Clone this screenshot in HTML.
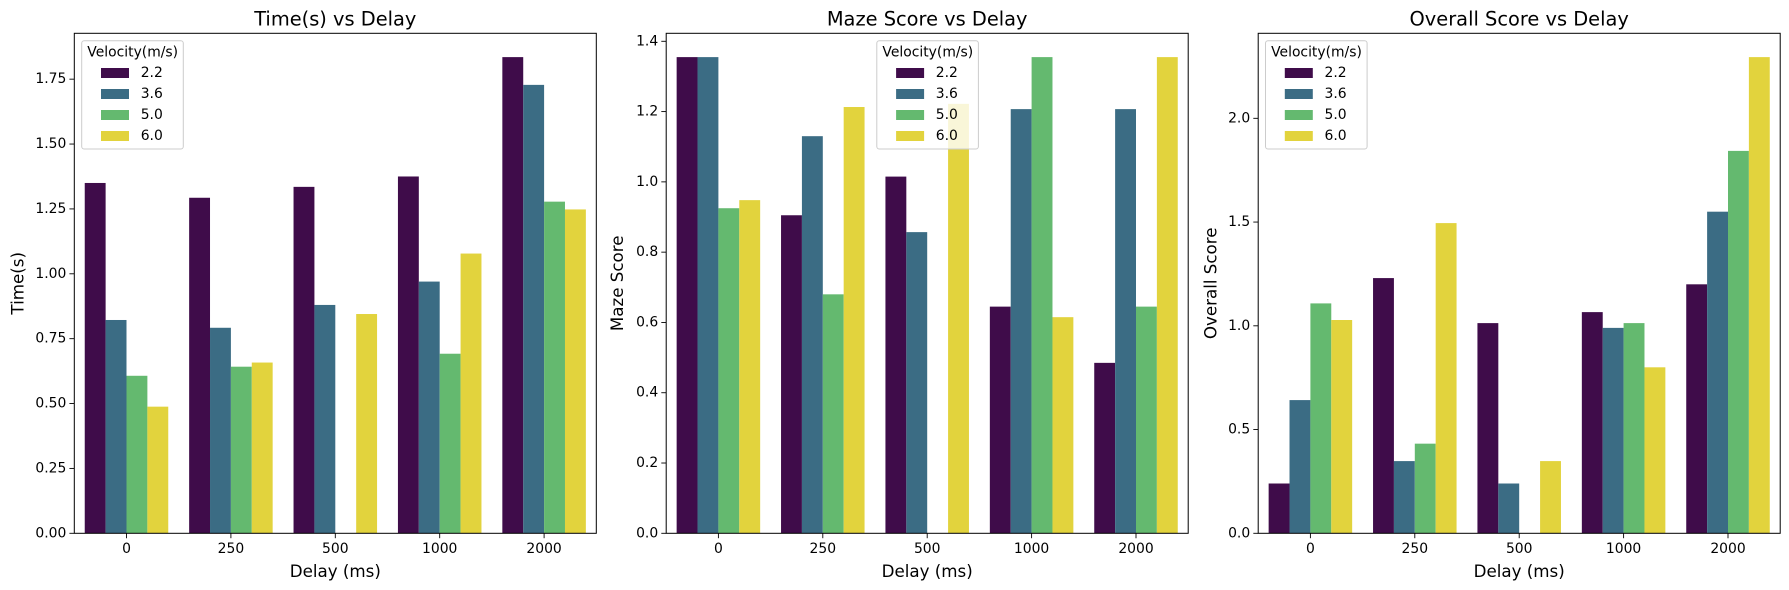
<!DOCTYPE html>
<html><head><meta charset="utf-8"><style>
body{margin:0;background:#fff}
svg{display:block;font-family:"DejaVu Sans","Liberation Sans",sans-serif}
</style></head><body>
<svg id="fig" width="1789" height="590" xmlns="http://www.w3.org/2000/svg"></svg>
<script>
const categories = ["0","250","500","1000","2000"];
const velocities = ["2.2","3.6","5.0","6.0"];
const colors = ["#3f0c4a","#3b6c84","#64b96f","#e2d33d"];
const timeV22 = [1.35,1.293,1.335,1.375,1.835];
const timeV36 = [0.822,0.792,0.88,0.97,1.728];
const timeV50 = [0.607,0.642,0,0.692,1.278];
const timeV60 = [0.488,0.658,0.845,1.078,1.248];
const timeTicks = [0,0.25,0.5,0.75,1.0,1.25,1.5,1.75];
const mazeV22 = [1.355,0.905,1.015,0.645,0.485];
const mazeV36 = [1.355,1.13,0.857,1.207,1.207];
const mazeV50 = [0.925,0.68,0,1.355,0.645];
const mazeV60 = [0.948,1.213,1.222,0.615,1.355];
const mazeTicks = [0,0.2,0.4,0.6,0.8,1.0,1.2,1.4];
const overV22 = [0.24,1.23,1.013,1.066,1.2];
const overV36 = [0.642,0.348,0.24,0.99,1.55];
const overV50 = [1.108,0.432,0,1.013,1.843];
const overV60 = [1.028,1.495,0.348,0.8,2.295];
const overTicks = [0,0.5,1.0,1.5,2.0];

const NS="http://www.w3.org/2000/svg";
const svg=document.getElementById('fig');
function mk(tag,attrs,parent){const e=document.createElementNS(NS,tag);for(const k in attrs)e.setAttribute(k,attrs[k]);(parent||svg).appendChild(e);return e;}

const panels=[
 {key:'time',left:74.3,title:'Time(s) vs Delay',ylabel:'Time(s)',series:[timeV22,timeV36,timeV50,timeV60],ticks:timeTicks,dec:2,legX:81.7,ylx:17.5},
 {key:'maze',left:666.2,title:'Maze Score vs Delay',ylabel:'Maze Score',series:[mazeV22,mazeV36,mazeV50,mazeV60],ticks:mazeTicks,dec:1,legX:876.8,ylx:617},
 {key:'overall',left:1258.2,title:'Overall Score vs Delay',ylabel:'Overall Score',series:[overV22,overV36,overV50,overV60],ticks:overTicks,dec:1,legX:1265.5,ylx:1210.3}
];
const yTop=33.3,yBottom=533.3,W=522;
panels.forEach(p=>{
  const g=mk('g',{});
  
  
  let mx=0;p.series.forEach(s=>s.forEach(v=>{if(v>mx)mx=v;}));
  const ymax=mx*1.05;
  const y=v=>yBottom-v/ymax*(yBottom-yTop);
  const step=W/categories.length;
  const xc=i=>p.left+step*(i+0.5);
  const bw=step*0.2;
  p.series.forEach((s,si)=>{
    s.forEach((v,ci)=>{
      const r=mk('rect',{x:xc(ci)-2*bw+si*bw,y:y(v),width:bw,height:yBottom-y(v),fill:colors[si]},g);
      
      
    });
  });
  const frame=mk('rect',{x:p.left,y:yTop,width:W,height:yBottom-yTop,fill:'none',stroke:'#000','stroke-width':1},g);
  
  
  p.ticks.forEach(t=>{
    mk('line',{x1:p.left-4.9,x2:p.left,y1:y(t),y2:y(t),stroke:'#000','stroke-width':0.9},g);
    const tx=mk('text',{x:p.left-8,y:y(t),'text-anchor':'end','dominant-baseline':'central','font-size':13.9,fill:'#000'},g);
    tx.textContent=t.toFixed(p.dec);
    
    
  });
  categories.forEach((c,i)=>{
    mk('line',{x1:xc(i),x2:xc(i),y1:yBottom,y2:yBottom+4.9,stroke:'#000','stroke-width':0.9},g);
    const tx=mk('text',{x:xc(i),y:yBottom+15.5,'text-anchor':'middle','dominant-baseline':'central','font-size':13.9,fill:'#000'},g);
    tx.textContent=c;
    
    
  });
  const ti=mk('text',{x:p.left+W/2,y:19,'text-anchor':'middle','dominant-baseline':'central','font-size':19.4,fill:'#000'},g);
  ti.textContent=p.title;
  
  
  const xl=mk('text',{x:p.left+W/2,y:571,'text-anchor':'middle','dominant-baseline':'central','font-size':16.7,fill:'#000'},g);
  xl.textContent='Delay (ms)';
  
  
  const cy0=(yTop+yBottom)/2;
  const yl=mk('text',{x:p.ylx,y:cy0,'text-anchor':'middle','dominant-baseline':'central','font-size':16.7,fill:'#000',transform:'rotate(-90 '+p.ylx+' '+cy0+')'},g);
  yl.textContent=p.ylabel;
  
  
  const lg=mk('g',{},g);
  
  
  const lx=p.legX;
  mk('rect',{x:lx,y:40.7,width:101.6,height:108.3,rx:2.5,fill:'#fff','fill-opacity':0.8,stroke:'#ccc','stroke-width':1},lg);
  const lt=mk('text',{x:lx+51,y:52.7,'text-anchor':'middle','dominant-baseline':'central','font-size':13.9,fill:'#000'},lg);
  lt.textContent='Velocity(m/s)';
  
  
  velocities.forEach((v,i)=>{
    const cy=73+i*21;
    const pr=mk('rect',{x:lx+19.3,y:cy-5,width:28,height:10,fill:colors[i]},lg);
    
    
    const tx=mk('text',{x:lx+59,y:cy,'dominant-baseline':'central','font-size':13.9,fill:'#000'},lg);
    tx.textContent=v;
    
    
  });
});
</script>
</body></html>
